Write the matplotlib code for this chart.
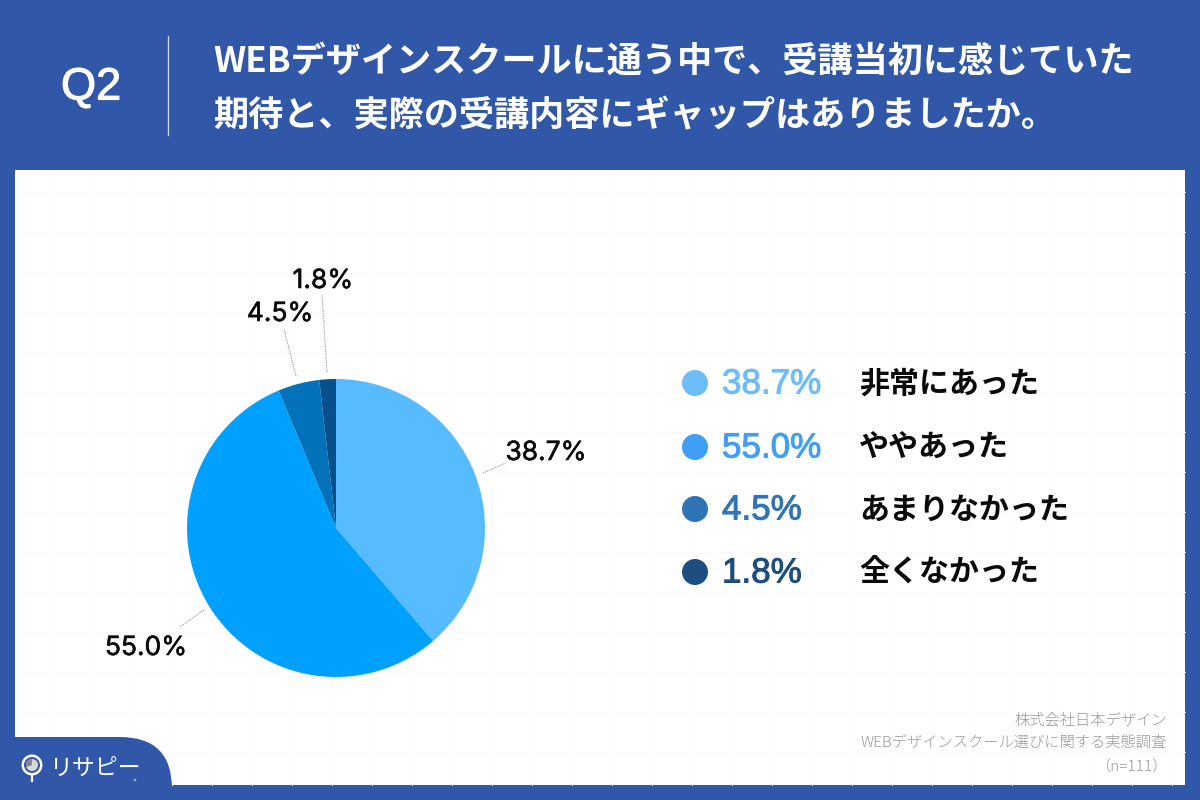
#!/usr/bin/env python3
import matplotlib
matplotlib.use("Agg")
import matplotlib.pyplot as plt
from matplotlib.patches import Rectangle, FancyBboxPatch, Circle, Wedge
from matplotlib import patheffects as pe

categories = ["非常にあった", "ややあった", "あまりなかった", "全くなかった"]
values = [38.7, 55.0, 4.5, 1.8]
value_labels = ["38.7%", "55.0%", "4.5%", "1.8%"]
title_lines = ["WEBデザインスクールに通う中で、受講当初に感じていた",
               "期待と、実際の受講内容にギャップはありましたか。"]
source_lines = ["株式会社日本デザイン", "WEBデザインスクール選びに関する実態調査", "（n=111）"]

BLUE = "#3157a8"
pie_colors = ["#56bbff", "#00a0ff", "#0471bb", "#07508c"]
legend_colors = ["#6dbdfb", "#3f9ff5", "#2f74b5", "#1c4e80"]
JP = ["Noto Sans CJK JP", "DejaVu Sans"]
LATIN = "Inter"


def Y(y):
    # picture coordinates run top-down
    return 800 - y


fig = plt.figure(figsize=(12, 8), dpi=100, facecolor=BLUE)
ax = fig.add_axes([0, 0, 1, 1])
ax.set_xlim(0, 1200)
ax.set_ylim(0, 800)
ax.axis("off")

# white panel with the faint background grid
ax.add_patch(Rectangle((15, Y(785)), 1170, 615, fc="white", ec="none", zorder=1))
for x in range(52, 1185, 40):
    ax.plot([x, x], [Y(785), Y(170)], color="#fbfbfb", lw=0.8, zorder=1.1)
for y in range(192, 785, 40):
    ax.plot([15, 1185], [Y(y), Y(y)], color="#fbfbfb", lw=0.8, zorder=1.1)

# header
ax.text(91, Y(88), "Q2", color="white", fontsize=32.5, family="Liberation Sans",
        ha="center", va="center", zorder=3,
        path_effects=[pe.withStroke(linewidth=0.8, foreground="white")])
ax.plot([167.5, 167.5], [Y(135), Y(36)], color="#c9d3e8", lw=1, zorder=3)
ax.text(213, Y(61), title_lines[0], color="white", fontsize=25.3, family=JP,
        weight="bold", ha="left", va="center", zorder=3)
ax.text(213, Y(116), title_lines[1], color="white", fontsize=25.3, family=JP,
        weight="bold", ha="left", va="center", zorder=3)

# pie
ax.pie(values, colors=pie_colors, startangle=90, counterclock=False,
       center=(336, Y(528)), radius=149, frame=True,
       wedgeprops={"linewidth": 0, "zorder": 2})
ax.set_xlim(0, 1200)
ax.set_ylim(0, 800)
ax.set_aspect("equal")
ax.axis("off")

# leader lines and pie labels
leaders = [((483, 473), (506, 463)), ((204, 610), (180, 627)),
           ((296, 376), (284, 329)), ((327, 372), (322, 295))]
label_pos = [(546, 453), (146, 648), (280, 314), (323, 281)]
for (p0, p1), (lx, ly), lab in zip(leaders, label_pos, value_labels):
    ax.plot([p0[0], p1[0]], [Y(p0[1]), Y(p1[1])], color="#999999", lw=0.8,
            ls=(0, (1, 1)), zorder=2)
    ax.text(lx, Y(ly), lab, color="#0a0a0a", fontsize=19, family=LATIN,
            ha="center", va="center", zorder=3,
            path_effects=[pe.withStroke(linewidth=0.4, foreground="#0a0a0a")])

# legend on the right
legend_y = [383, 447, 509, 572]
for cat, lab, col, y in zip(categories, value_labels, legend_colors, legend_y):
    ax.add_patch(Circle((695, Y(y)), 13, fc=col, ec="none", zorder=3))
    ax.text(722, Y(y + 1), lab, color=col, fontsize=25.2, family="Liberation Sans",
            ha="left", va="center", zorder=3,
            path_effects=[pe.withStroke(linewidth=0.7, foreground=col)])
    ax.text(859, Y(y + 1), cat, color="#0a0a0a", fontsize=21.6, family=JP,
            weight="bold", ha="left", va="center", zorder=3)

# source note
for line, y in zip(source_lines, [720, 743, 766]):
    ax.text(1167, Y(y), line, color="#999999", fontsize=11, family=JP,
            weight="light", ha="right", va="center", zorder=3)

# logo tab, bottom left
ax.add_patch(FancyBboxPatch((-60, Y(860)), 232, 123, boxstyle="round,pad=0,rounding_size=52",
                            fc=BLUE, ec="none", zorder=4))
ax.add_patch(Circle((32, Y(765)), 10.5, fc="white", ec="none", zorder=5))
ax.add_patch(Circle((32, Y(765)), 8, fc=BLUE, ec="none", zorder=5))
ax.add_patch(Circle((32, Y(765)), 6, fc="#d9d9d9", ec="none", zorder=5))
ax.add_patch(Wedge((32, Y(765)), 6, 90, 200, fc="#888888", ec="none", zorder=5))
ax.plot([31.5, 31.5], [Y(775), Y(781)], color="white", lw=1.6, zorder=5)
ax.text(50, Y(768), "リサピー", color="white", fontsize=16.5, family=JP,
        ha="left", va="center", zorder=5)
ax.add_patch(Circle((135, Y(780)), 1.3, fc="#9fb2d8", ec="none", zorder=5))

fig.savefig("out.png", dpi=100, facecolor=BLUE)
plt.close(fig)
